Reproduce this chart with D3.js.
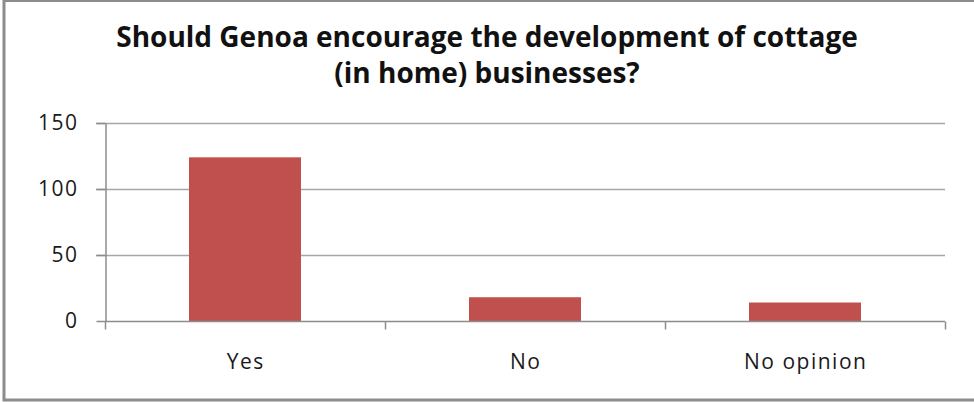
<!DOCTYPE html>
<html><head><meta charset="utf-8">
<script src="https://cdn.jsdelivr.net/npm/d3@7"></script>
<style>html,body{margin:0;padding:0;background:#fff;overflow:hidden}</style>
</head><body><svg id="c" width="974" height="402"></svg>
<script>
const categories = ["Yes", "No", "No opinion"];
const values = [124, 18, 14];
const yTicks = [0, 50, 100, 150];
const titleLines = ["Should Genoa encourage the development of cottage", "(in home) businesses?"];

const svg = d3.select("#c");
const font = "'Open Sans', 'Liberation Sans', sans-serif";

// outer frame
svg.append("rect").attr("x", 4).attr("y", 0.5).attr("width", 990).attr("height", 399.5)
  .attr("fill", "#fff").attr("stroke", "#8c8c8c").attr("stroke-width", 3);

const plotLeft = 105, plotRight = 945, plotTop = 123, plotBottom = 321;
const x = d3.scaleBand().domain(categories).range([plotLeft, plotRight]).paddingInner(0.6).paddingOuter(0.3);
const y = d3.scaleLinear().domain([0, 150]).range([plotBottom, plotTop]);

// gridlines
svg.append("g").selectAll("line").data(yTicks.filter(d => d > 0)).join("line")
  .attr("x1", plotLeft - 9).attr("x2", plotRight).attr("y1", d => y(d) + 0.5).attr("y2", d => y(d) + 0.5)
  .attr("stroke", "#a6a6a6").attr("stroke-width", 1.5);

// bars
svg.append("g").selectAll("rect").data(values).join("rect")
  .attr("x", (d, i) => x(categories[i])).attr("width", x.bandwidth())
  .attr("y", d => y(d)).attr("height", d => y(0) - y(d)).attr("fill", "#c0504d");

// y axis
const yAxis = svg.append("g").attr("transform", `translate(${plotLeft + 0.5},0)`)
  .call(d3.axisLeft(y).tickValues(yTicks).tickSize(9).tickPadding(18).tickSizeOuter(0));
yAxis.select(".domain").attr("stroke", "#8c8c8c").attr("stroke-width", 1.5);
yAxis.selectAll(".tick line").attr("stroke", "#8c8c8c").attr("stroke-width", 1.5);
yAxis.selectAll("text").attr("font-family", font).attr("font-size", 21).attr("fill", "#1a1a1a")
  .attr("letter-spacing", 1.5);

// x axis
const step = (plotRight - plotLeft) / categories.length;
const xAxis = svg.append("g").attr("transform", `translate(0,${plotBottom + 0.5})`);
xAxis.append("line").attr("x1", plotLeft).attr("x2", plotRight).attr("stroke", "#8c8c8c").attr("stroke-width", 1.5);
xAxis.selectAll("line.t").data(d3.range(categories.length + 1)).join("line").attr("class", "t")
  .attr("x1", i => plotLeft + i * step + 0.5).attr("x2", i => plotLeft + i * step + 0.5)
  .attr("y1", 0).attr("y2", 8).attr("stroke", "#8c8c8c").attr("stroke-width", 1.5);
xAxis.selectAll("text").data(categories).join("text")
  .attr("x", d => x(d) + x.bandwidth() / 2 + 0.75).attr("y", 47)
  .attr("text-anchor", "middle").attr("font-family", font).attr("font-size", 21).attr("fill", "#1a1a1a")
  .attr("letter-spacing", 1.5)
  .text(d => d);

// title
svg.append("g").selectAll("text").data(titleLines).join("text")
  .attr("x", 487).attr("y", (d, i) => 47 + i * 36)
  .attr("text-anchor", "middle").attr("font-family", font).attr("font-weight", "bold")
  .attr("font-size", 28).attr("fill", "#111").text(d => d);
</script></body></html>
